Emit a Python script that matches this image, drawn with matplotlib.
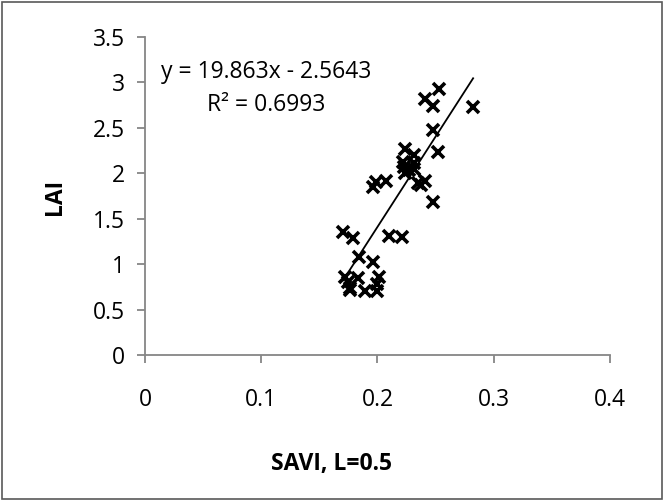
import matplotlib
matplotlib.use("Agg")
import matplotlib.pyplot as plt
from matplotlib.patches import Rectangle
import numpy as np

plt.rcParams['font.family'] = ['Open Sans', 'DejaVu Sans']

# field plots: soil-adjusted vegetation index vs measured leaf area index
savi = [0.2531, 0.2407, 0.2474, 0.2823, 0.2474, 0.2522, 0.2479,
        0.2236, 0.2316, 0.2221, 0.2316, 0.2229, 0.2275, 0.2315, 0.2234,
        0.2350, 0.2407, 0.2376,
        0.1964, 0.1986, 0.2072,
        0.1705, 0.1793, 0.2102, 0.2207, 0.1842, 0.1961,
        0.1723, 0.1743, 0.1834, 0.2009, 0.1763, 0.1768, 0.1996, 0.1892, 0.1996]
lai = [2.923, 2.813, 2.739, 2.732, 2.475, 2.237, 1.686,
       2.263, 2.200, 2.126, 2.109, 2.062, 2.032, 2.042, 2.001,
       1.889, 1.918, 1.869,
       1.852, 1.899, 1.910,
       1.350, 1.290, 1.310, 1.295, 1.076, 1.025,
       0.863, 0.802, 0.842, 0.858, 0.741, 0.710, 0.781, 0.705, 0.705]

slope = 19.863
intercept = -2.5643
r2 = 0.6993

x_ticks = [0, 0.1, 0.2, 0.3, 0.4]
y_ticks = [0, 0.5, 1, 1.5, 2, 2.5, 3, 3.5]

axis_grey = '#868686'
fs = 16.5

fig = plt.figure(figsize=(6.65, 5.01), dpi=100)
ax = fig.add_axes([0.2180, 0.2914, 0.6992, 0.6353])

ax.plot(savi, lai, linestyle='none', marker='x', color='black',
        markersize=9, markeredgewidth=2.6)

# linear trend line over the range of the data
xs = np.array([min(savi), max(savi)])
ax.plot(xs, slope * xs + intercept, color='black', linewidth=1.3)

ax.set_xlim(0, 0.4)
ax.set_ylim(0, 3.5)
ax.set_xticks(x_ticks)
ax.set_yticks(y_ticks)
ax.set_xticklabels(['0', '0.1', '0.2', '0.3', '0.4'])
ax.set_yticklabels(['0', '0.5', '1', '1.5', '2', '2.5', '3', '3.5'])

for side in ['top', 'right']:
    ax.spines[side].set_visible(False)
for side in ['left', 'bottom']:
    ax.spines[side].set_color(axis_grey)
    ax.spines[side].set_linewidth(1.3)
ax.tick_params(axis='both', direction='out', length=6, width=1.3,
               color=axis_grey, labelsize=fs, labelcolor='black')
ax.tick_params(axis='x', pad=17.5)
ax.tick_params(axis='y', pad=8.5)

ax.text(0.1045, 3.117, 'y = {:.3f}x - {:.4f}'.format(slope, -intercept),
        ha='center', va='center', fontsize=fs)
ax.text(0.1045, 2.75, 'R² = {:.4f}'.format(r2), ha='center', va='center',
        fontsize=fs)

ax.text(0.1605, -1.20, 'SAVI, L=0.5', ha='center', va='center',
        fontsize=fs, fontweight='bold')
ax.text(-0.0774, 1.74, 'LAI', ha='center', va='center', rotation=90,
        fontsize=fs, fontweight='bold')

fig.patches.append(Rectangle((2 / 665, 2 / 501), 660 / 665, 497 / 501,
                             transform=fig.transFigure, fill=False,
                             edgecolor='#595959', linewidth=1.2))

fig.savefig('out.png', dpi=100)
